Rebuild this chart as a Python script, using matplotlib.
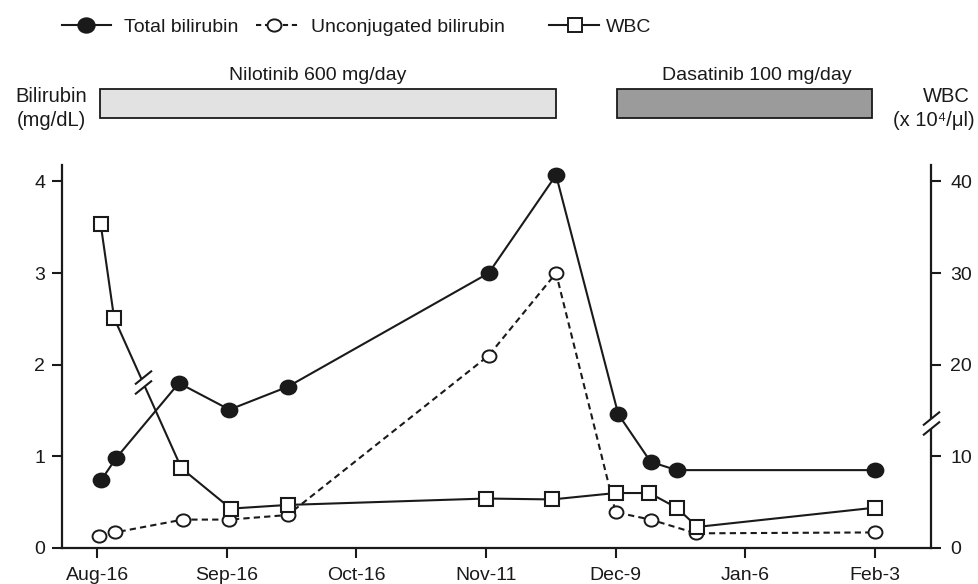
import numpy as np
import matplotlib
matplotlib.use('Agg')
import matplotlib.pyplot as plt
import matplotlib.transforms as mtransforms
from matplotlib.lines import Line2D
from matplotlib.patches import Rectangle
from matplotlib.path import Path

plt.rcParams['font.family'] = ['Liberation Sans', 'DejaVu Sans']
plt.rcParams['font.size'] = 14

# x positions are in tick units (0 = Aug-16, 1 = Sep-16, ...)
tick_labels = ['Aug-16', 'Sep-16', 'Oct-16', 'Nov-11', 'Dec-9', 'Jan-6', 'Feb-3']

# total bilirubin (mg/dL)
tb_x = [0.03, 0.145, 0.63, 1.02, 1.47, 3.02, 3.54, 4.02, 4.27, 4.47, 6.0]
tb_y = [0.74, 0.98, 1.80, 1.51, 1.76, 3.00, 4.07, 1.46, 0.94, 0.85, 0.85]

# unconjugated bilirubin (mg/dL)
ub_x = [0.015, 0.137, 0.66, 1.02, 1.47, 3.02, 3.54, 4.0, 4.27, 4.62, 6.0]
ub_y = [0.13, 0.17, 0.31, 0.31, 0.36, 2.10, 3.00, 0.39, 0.31, 0.16, 0.17]

# WBC (x 10^4/ul)
wbc_x = [0.026, 0.13, 0.65, 1.03, 1.47, 3.0, 3.51, 4.0, 4.26, 4.47, 4.63, 6.0]
wbc_y = [35.4, 25.1, 8.7, 4.3, 4.7, 5.4, 5.3, 6.0, 6.0, 4.4, 2.3, 4.4]

# treatment periods
drug_names = ['Nilotinib 600 mg/day', 'Dasatinib 100 mg/day']
drug_start = [0.02, 4.01]
drug_end = [3.54, 5.98]
drug_label_x = [1.70, 5.09]
drug_colors = ['#e2e2e2', '#9b9b9b']

# axis breaks
wbc_break_x, wbc_break_y = 0.35, 18.15
axis_break_y = 13.6

W, H = 979, 584
fig = plt.figure(figsize=(W / 100, H / 100), dpi=100)
ax = fig.add_axes([62 / W, (H - 548) / H, 869 / W, 383 / H])
ax2 = ax.twinx()

lw = 1.5
ink = '#1a1a1a'

# slightly flattened circle marker
circ = Path.unit_circle()
ellipse = Path(circ.vertices * np.array([1.0, 0.88]), circ.codes)

ax.plot(ub_x, ub_y, color=ink, lw=lw, ls=(0, (3, 2)), marker=ellipse, ms=10,
        mfc='white', mec=ink, mew=1.4, zorder=3)
ax.plot(tb_x, tb_y, color=ink, lw=lw, marker=ellipse, ms=11.8,
        mfc=ink, mec=ink, mew=1, zorder=4)
ax2.plot(wbc_x, wbc_y, color=ink, lw=lw, marker='s', ms=10.5,
         mfc='white', mec=ink, mew=1.5, zorder=3)

# break marks
gap = Path([(-5.4, -1.2), (5.4, 7.5), (5.4, 1.2), (-5.4, -7.5), (-5.4, -1.2)],
           [Path.MOVETO, Path.LINETO, Path.LINETO, Path.LINETO, Path.CLOSEPOLY])
marks = Path([(-5.4, -1.2), (5.4, 7.5), (-5.4, -7.5), (5.4, 1.2)],
             [Path.MOVETO, Path.LINETO, Path.MOVETO, Path.LINETO])
for bx, by in [(wbc_break_x, wbc_break_y), (6.433, axis_break_y)]:
    ax2.plot([bx], [by], ls='none', marker=gap, ms=17, mfc='white', mec='white',
             mew=0, zorder=6, clip_on=False)
    ax2.plot([bx], [by], ls='none', marker=marks, ms=17, mfc='none', mec=ink,
             mew=1.5, zorder=7, clip_on=False)

ax.set_xlim(-0.272, 6.433)
ax.set_ylim(0, 4.18)
ax2.set_ylim(0, 41.8)

ax.set_xticks(range(len(tick_labels)))
ax.set_xticklabels(tick_labels)
ax.set_yticks([0, 1, 2, 3, 4])
ax2.set_yticks([0, 10, 20, 30, 40])

for a in (ax, ax2):
    for s in a.spines.values():
        s.set_linewidth(1.6)
        s.set_color(ink)
    a.tick_params(length=7, width=1.5, color=ink, labelsize=14, labelcolor=ink)
ax.spines['top'].set_visible(False)
ax.spines['right'].set_visible(False)
ax2.spines['top'].set_visible(False)
ax2.spines['left'].set_visible(False)
ax2.spines['bottom'].set_visible(False)
ax.tick_params(axis='x', pad=7)
ax.tick_params(axis='y', pad=5)
ax2.tick_params(axis='y', pad=7)

# treatment bars above the plot
trans = mtransforms.blended_transform_factory(ax.transData, ax.transAxes)
for name, x0, x1, lx, c in zip(drug_names, drug_start, drug_end, drug_label_x, drug_colors):
    ax.add_patch(Rectangle((x0, 1.123), x1 - x0, 0.075, transform=trans,
                           facecolor=c, edgecolor=ink, lw=1.3, clip_on=False))
    ax.text(lx, 1.222, name, transform=trans, ha='center', va='baseline',
            fontsize=14, color=ink)

# axis titles
fig.text(51 / W, 1 - 102 / H, 'Bilirubin', ha='center', va='baseline', fontsize=14.5, color=ink)
fig.text(51 / W, 1 - 126 / H, '(mg/dL)', ha='center', va='baseline', fontsize=14.5, color=ink)
fig.text(946 / W, 1 - 102 / H, 'WBC', ha='center', va='baseline', fontsize=14.5, color=ink)
fig.text(934 / W, 1 - 126 / H, '(x 10\u2074/\u03bcl)', ha='center', va='baseline',
         fontsize=14.5, color=ink)


# legend drawn on the figure
def fx(x):
    return x / W


def fy(y):
    return 1 - y / H


legend_items = [
    (62, 111, 86, '-', ellipse, 11.8, ink, 124, 'Total bilirubin'),
    (256, 300, 274, (0, (2.5, 1.8)), ellipse, 10, 'white', 311, 'Unconjugated bilirubin'),
    (549, 599, 575, '-', 's', 10.5, 'white', 606, 'WBC'),
]
for x0, x1, xm, ls, mk, ms, fc, xt, label in legend_items:
    fig.add_artist(Line2D([fx(x0), fx(x1)], [fy(25), fy(25)], color=ink, lw=lw, ls=ls,
                          transform=fig.transFigure))
    fig.add_artist(Line2D([fx(xm)], [fy(25)], ls='none', marker=mk, ms=ms, mfc=fc,
                          mec=ink, mew=1.4, transform=fig.transFigure))
    fig.text(fx(xt), fy(31.5), label, ha='left', va='baseline', fontsize=14, color=ink)

fig.savefig('out.png', dpi=100)
